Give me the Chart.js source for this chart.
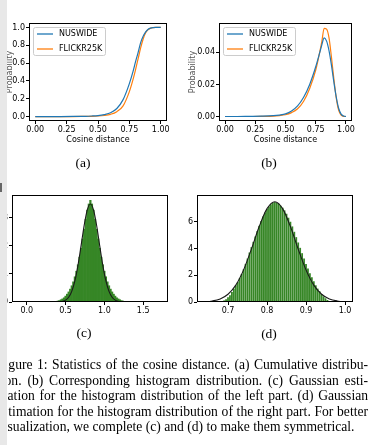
<!DOCTYPE html>
<html>
<head>
<meta charset="utf-8">
<script src="https://cdn.jsdelivr.net/npm/chart.js@4.4.1/dist/chart.umd.min.js"></script>
<style>
  body { margin: 0; width: 376px; height: 445px; background: #fff; position: relative; overflow: hidden; }
  canvas { position: absolute; }
  .sub { position: absolute; width: 40px; text-align: center; font: 13.5px "Liberation Serif", serif; line-height: 16px; color: #000; }
  #capClip { position: absolute; left: 8px; top: 357px; width: 368px; height: 85px; overflow: hidden; }
  #cap { position: absolute; left: -11px; top: 0; width: 371px; font: 13.6px "Liberation Serif", serif; line-height: 15.5px; color: #000; }
  #cap div { text-align: justify; text-align-last: justify; }
  #cap div.last { text-align: left; text-align-last: left; }
  #strip { position: absolute; left: 0; top: 0; width: 7px; height: 445px; background: #e8e8e8; z-index: 5; }
  #mark { position: absolute; left: 0; top: 183px; width: 2px; height: 9px; background: #666; z-index: 6; }
</style>
</head>
<body>
<canvas id="chartA" width="180" height="150" style="left:0;top:0"></canvas>
<canvas id="chartB" width="196" height="150" style="left:180px;top:0"></canvas>
<canvas id="chartC" width="180" height="180" style="left:0;top:170px"></canvas>
<canvas id="chartD" width="196" height="180" style="left:180px;top:170px"></canvas>

<div class="sub" style="left:63px;top:155px">(a)</div>
<div class="sub" style="left:249px;top:155px">(b)</div>
<div class="sub" style="left:64px;top:325px">(c)</div>
<div class="sub" style="left:249px;top:326px">(d)</div>

<div id="capClip"><div id="cap">
  <div>Figure 1: Statistics of the cosine distance. (a) Cumulative distribu-</div>
  <div>tion. (b) Corresponding histogram distribution. (c) Gaussian esti-</div>
  <div>mation for the histogram distribution of the left part. (d) Gaussian</div>
  <div>estimation for the histogram distribution of the right part. For better</div>
  <div class="last">visualization, we complete (c) and (d) to make them symmetrical.</div>
</div></div>

<div id="strip"></div>
<div id="mark"></div>

<script>
// cosine distance samples for (a) and (b)
const distX = [0, 0.1, 0.2, 0.3, 0.4, 0.45, 0.5, 0.55, 0.6, 0.65, 0.7, 0.75, 0.78, 0.8, 0.82, 0.84, 0.86, 0.88, 0.9, 0.92, 0.94, 0.96, 0.98, 1.0];
const nusCdf = [0, 0, 0, 0.001, 0.003, 0.006, 0.011, 0.022, 0.042, 0.09, 0.19, 0.37, 0.51, 0.62, 0.72, 0.83, 0.9, 0.95, 0.98, 0.993, 0.998, 1, 1, 1];
const flickrCdf = [0, 0, 0, 0, 0.002, 0.003, 0.006, 0.012, 0.025, 0.055, 0.12, 0.28, 0.42, 0.53, 0.65, 0.77, 0.87, 0.94, 0.975, 0.992, 0.998, 1, 1, 1];
const nusPdf = [0, 0, 0.0001, 0.0002, 0.0005, 0.0009, 0.0016, 0.0034, 0.0066, 0.012, 0.02, 0.031, 0.039, 0.0445, 0.049, 0.047, 0.041, 0.032, 0.0215, 0.012, 0.005, 0.0015, 0.0003, 0];
const flickrPdf = [0, 0, 0, 0.0001, 0.0003, 0.0006, 0.0011, 0.0024, 0.0048, 0.0095, 0.0175, 0.029, 0.039, 0.0465, 0.055, 0.0545, 0.049, 0.037, 0.0235, 0.0115, 0.0038, 0.0008, 0.0001, 0];

// (c) left part histogram + gaussian
const leftBins = [0.36, 0.38, 0.40, 0.42, 0.44, 0.46, 0.48, 0.50, 0.52, 0.54, 0.56, 0.58, 0.60, 0.62, 0.64, 0.66, 0.68, 0.70, 0.72, 0.74, 0.76, 0.78, 0.80, 0.82,
  0.84, 0.86, 0.88, 0.90, 0.92, 0.94, 0.96, 0.98, 1.00, 1.02, 1.04, 1.06, 1.08, 1.10, 1.12, 1.14, 1.16, 1.18, 1.20, 1.22, 1.24, 1.26, 1.28];
const leftHist = [0.01, 0.02, 0.035, 0.05, 0.08, 0.11, 0.15, 0.21, 0.28, 0.36, 0.46, 0.58, 0.72, 0.9, 1.1, 1.33, 1.6, 1.92, 2.25, 2.6, 2.95, 3.28, 3.5, 3.63,
  3.5, 3.28, 2.95, 2.6, 2.25, 1.92, 1.6, 1.33, 1.1, 0.9, 0.72, 0.58, 0.46, 0.36, 0.28, 0.21, 0.15, 0.11, 0.08, 0.05, 0.035, 0.02, 0.01];
const leftFitX = [0.46, 0.5, 0.54, 0.58, 0.62, 0.66, 0.7, 0.74, 0.78, 0.82, 0.86, 0.9, 0.94, 0.98, 1.02, 1.06, 1.1, 1.14, 1.18];
const leftFitY = [0.024, 0.068, 0.17, 0.38, 0.75, 1.31, 2.01, 2.74, 3.29, 3.5, 3.29, 2.74, 2.01, 1.31, 0.75, 0.38, 0.17, 0.068, 0.024];

// (d) right part histogram + gaussian
const rightBins = [0.690, 0.695, 0.700, 0.705, 0.710, 0.715, 0.720, 0.725, 0.730, 0.735, 0.740, 0.745, 0.750, 0.755, 0.760, 0.765, 0.770, 0.775,
  0.780, 0.785, 0.790, 0.795, 0.800, 0.805, 0.810, 0.815, 0.820, 0.825, 0.830, 0.835, 0.840, 0.845, 0.850, 0.855, 0.860, 0.865,
  0.870, 0.875, 0.880, 0.885, 0.890, 0.895, 0.900, 0.905, 0.910, 0.915, 0.920, 0.925, 0.930, 0.935, 0.940, 0.945, 0.950, 0.955];
const rightHist = [0.12, 0.2, 0.35, 0.5, 0.75, 1.0, 1.25, 1.5, 1.8, 2.1, 2.45, 2.85, 3.25, 3.7, 4.1, 4.5, 4.9, 5.3,
  5.7, 6.05, 6.4, 6.7, 6.95, 7.15, 7.3, 7.42, 7.47, 7.42, 7.35, 7.2, 7.05, 6.85, 6.6, 6.3, 6.0, 5.65,
  5.25, 4.85, 4.45, 4.05, 3.65, 3.25, 2.85, 2.5, 2.15, 1.85, 1.55, 1.25, 1.0, 0.8, 0.6, 0.42, 0.28, 0.15];
const rightFitX = [0.62, 0.64, 0.66, 0.68, 0.7, 0.72, 0.74, 0.76, 0.78, 0.8, 0.82, 0.84, 0.86, 0.88, 0.9, 0.92, 0.94, 0.96, 0.98, 1.0, 1.02];
const rightFitY = [0.006, 0.023, 0.079, 0.23, 0.58, 1.26, 2.4, 3.95, 5.64, 6.98, 7.5, 6.98, 5.64, 3.95, 2.4, 1.26, 0.58, 0.23, 0.079, 0.023, 0.006];

// tick labels
const distTicks = [0, 0.25, 0.5, 0.75, 1.0];
const cdfTicks = [0, 0.2, 0.4, 0.6, 0.8, 1.0];
const pdfTicks = [0, 0.02, 0.04];
const leftXTicks = [0, 0.5, 1.0, 1.5];
const leftYTicks = [0, 1, 2, 3];
const rightXTicks = [0.7, 0.8, 0.9, 1.0];
const rightYTicks = [0, 2, 4, 6];

const blue = '#1f77b4';
const orange = '#ff7f0e';
const green = '#368626';
const font = { family: 'DejaVu Sans', size: 8 };

const pts = (xs, ys) => xs.map((x, i) => ({ x: x, y: ys[i] }));
const useTicks = vals => s => { s.ticks = vals.map(v => ({ value: v })); };
const fixX = h => s => { s.height = h; s.paddingLeft = 0; s.paddingRight = 0; };
const fixY = w => s => { s.width = w; s.paddingTop = 0; s.paddingBottom = 0; };

// full box round the plot area, like matplotlib spines
const framePlugin = {
  id: 'frame',
  afterDatasetsDraw(chart) {
    const { ctx, chartArea: a } = chart;
    ctx.save();
    ctx.strokeStyle = '#000';
    ctx.lineWidth = 1;
    ctx.strokeRect(Math.round(a.left) + 0.5, Math.round(a.top) + 0.5,
      Math.round(a.right - a.left) - 1, Math.round(a.bottom - a.top) - 1);
    ctx.restore();
  }
};

// legend box in upper left of the plot area
const boxLegend = {
  id: 'boxLegend',
  afterDraw(chart) {
    const { ctx, chartArea: a } = chart;
    const x = Math.round(a.left) + 4, y = Math.round(a.top) + 4;
    ctx.save();
    ctx.fillStyle = 'rgba(255,255,255,0.85)';
    ctx.strokeStyle = '#cccccc';
    ctx.lineWidth = 1;
    ctx.beginPath();
    ctx.roundRect(x + 0.5, y + 0.5, 72, 28, 2);
    ctx.fill();
    ctx.stroke();
    ctx.font = '8px "DejaVu Sans"';
    ctx.textBaseline = 'middle';
    chart.data.datasets.forEach((ds, i) => {
      const ry = y + 7 + i * 15;
      ctx.strokeStyle = ds.borderColor;
      ctx.lineWidth = 1.3;
      ctx.beginPath();
      ctx.moveTo(x + 4, ry);
      ctx.lineTo(x + 20, ry);
      ctx.stroke();
      ctx.fillStyle = '#000';
      ctx.fillText(ds.label, x + 26, ry);
    });
    ctx.restore();
  }
};

const axis = (min, max, ticks, fit, digits, title) => ({
  type: 'linear',
  min: min,
  max: max,
  offset: false,
  afterBuildTicks: useTicks(ticks),
  afterFit: fit,
  ticks: { font: font, color: '#000', padding: 1, callback: v => v.toFixed(digits) },
  grid: { drawOnChartArea: false, offset: false, tickLength: 3, color: '#000' },
  border: { display: false },
  title: title ? { display: true, text: title, font: font, color: title === 'Probability' ? '#555' : '#000', padding: 0 } : { display: false }
});

const base = padding => ({
  responsive: false,
  animation: false,
  events: [],
  layout: { padding: padding },
  plugins: { legend: { display: false }, tooltip: { enabled: false } }
});

const lineSet = (label, color, ys) => ({
  label: label,
  data: pts(distX, ys),
  borderColor: color,
  borderWidth: 1.2,
  pointRadius: 0,
  cubicInterpolationMode: 'monotone'
});

// (a) cumulative distribution
new Chart(document.getElementById('chartA'), {
  type: 'line',
  data: { datasets: [lineSet('NUSWIDE', blue, nusCdf), lineSet('FLICKR25K', orange, flickrCdf)] },
  options: Object.assign(base({ left: 5, top: 23, right: 13, bottom: 5 }), {
    scales: {
      x: axis(-0.05, 1.05, distTicks, fixX(24), 2, 'Cosine distance'),
      y: axis(-0.05, 1.05, cdfTicks, fixY(24), 1, 'Probability')
    }
  }),
  plugins: [framePlugin, boxLegend]
});

// (b) histogram distribution
new Chart(document.getElementById('chartB'), {
  type: 'line',
  data: { datasets: [lineSet('NUSWIDE', blue, nusPdf), lineSet('FLICKR25K', orange, flickrPdf)] },
  options: Object.assign(base({ left: 8, top: 23, right: 24, bottom: 5 }), {
    scales: {
      x: axis(-0.05, 1.05, distTicks, fixX(24), 2, 'Cosine distance'),
      y: axis(-0.0028, 0.0583, pdfTicks, fixY(31), 2, 'Probability')
    }
  }),
  plugins: [framePlugin, boxLegend]
});

const fitSet = (xs, ys) => ({
  type: 'line',
  data: pts(xs, ys),
  borderColor: '#1a1a1a',
  borderWidth: 1.1,
  pointRadius: 0,
  cubicInterpolationMode: 'monotone',
  order: 0
});

const histSet = (xs, ys, barPct) => ({
  type: 'bar',
  data: pts(xs, ys),
  backgroundColor: green,
  borderWidth: 0,
  barPercentage: barPct,
  categoryPercentage: 1,
  order: 1
});

// (c) gaussian fit, left part
new Chart(document.getElementById('chartC'), {
  type: 'bar',
  data: { datasets: [fitSet(leftFitX, leftFitY), histSet(leftBins, leftHist, 1)] },
  options: Object.assign(base({ left: 0, top: 25, right: 12, bottom: 34 }), {
    scales: {
      x: axis(-0.19, 1.82, leftXTicks, fixX(14), 1),
      y: axis(0, 3.82, leftYTicks, fixY(12), 0)
    }
  }),
  plugins: [framePlugin]
});

// (d) gaussian fit, right part
new Chart(document.getElementById('chartD'), {
  type: 'bar',
  data: { datasets: [fitSet(rightFitX, rightFitY), histSet(rightBins, rightHist, 0.92)] },
  options: Object.assign(base({ left: 0, top: 25, right: 23, bottom: 34 }), {
    scales: {
      x: axis(0.6205, 1.0205, rightXTicks, fixX(14), 1),
      y: axis(0, 8.0, rightYTicks, fixY(17), 0)
    }
  }),
  plugins: [framePlugin]
});
</script>
</body>
</html>
